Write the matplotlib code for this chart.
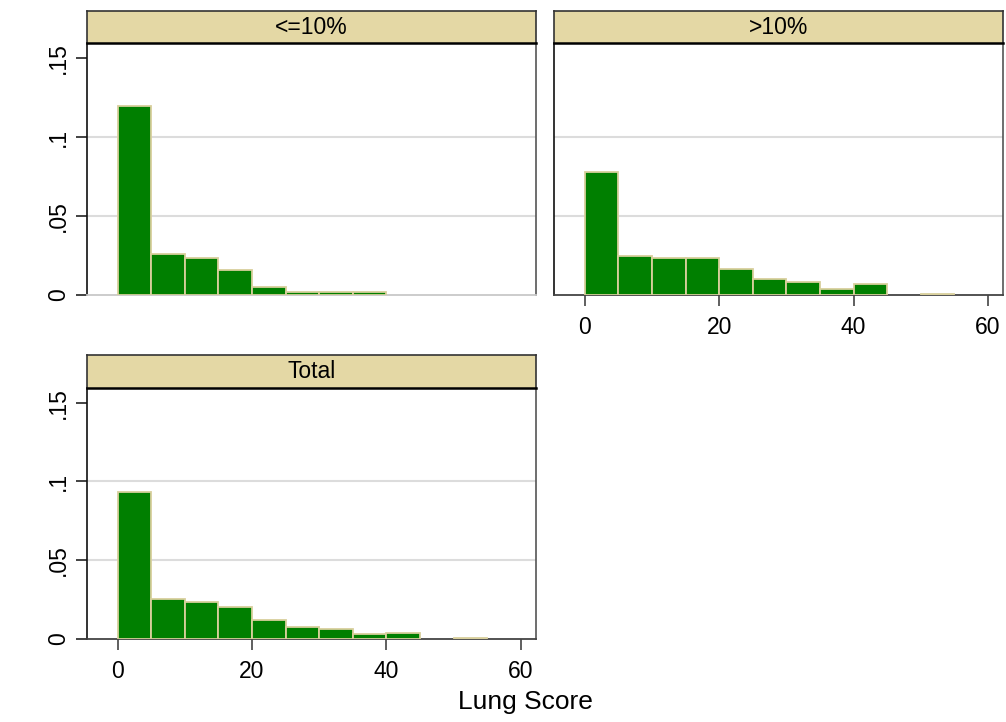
import matplotlib.pyplot as plt
import numpy as np

plt.rcParams['font.family'] = ['Liberation Sans', 'DejaVu Sans']

# histogram bins (width 5) and densities per group
bin_left = [0, 5, 10, 15, 20, 25, 30, 35, 40, 45, 50]
dens_low = [0.1195, 0.0259, 0.0236, 0.0156, 0.0053, 0.0017, 0.0017, 0.0017, 0, 0, 0]
dens_high = [0.0777, 0.0246, 0.0232, 0.0232, 0.0162, 0.0099, 0.0082, 0.0036, 0.0069, 0, 0.0006]
dens_total = [0.0930, 0.0252, 0.0237, 0.0205, 0.0121, 0.0074, 0.0061, 0.0032, 0.0040, 0, 0.0008]
titles = ["<=10%", ">10%", "Total"]
yticks = [0, 0.05, 0.1, 0.15]
yticklabels = ["0", ".05", ".1", ".15"]
xticks = [0, 20, 40, 60]

W, H = 1006, 722
fig = plt.figure(figsize=(W / 100, H / 100), dpi=100)

GREEN = "#007f00"
EDGE = "#d8cf9c"
STRIP = "#e4d8a5"


def px_axes(x0, y0, x1, y1):
    return fig.add_axes([x0 / W, 1 - y1 / H, (x1 - x0) / W, (y1 - y0) / H])


def panel(x0, x1, top, bottom, dens, title, show_x, show_y):
    ax = px_axes(x0, top, x1, bottom)
    for left, d in zip(bin_left, dens):
        if d > 0:
            ax.bar(left, d, width=5, align="edge", color=GREEN,
                   edgecolor=EDGE, linewidth=1.3, zorder=3)
    ax.set_xlim(-4.6, 62.2)
    ax.set_ylim(0, 0.1595)
    for g in [0.05, 0.1]:
        ax.axhline(g, color="#dcdcdc", linewidth=1.5, zorder=1)
    ax.spines["top"].set_visible(False)
    ax.spines["right"].set_color("#555555")
    ax.spines["right"].set_linewidth(1.2)
    ax.spines["left"].set_color("#111111")
    ax.spines["left"].set_linewidth(1.2)
    ax.spines["bottom"].set_linewidth(1.3)
    if show_x:
        ax.spines["bottom"].set_color("#444444")
        ax.set_xticks(xticks)
        ax.set_xticklabels([str(t) for t in xticks], fontsize=16.5)
        ax.tick_params(axis="x", length=8, width=1.2, color="#444444", pad=7)
    else:
        ax.spines["bottom"].set_color("#c8c8c8")
        ax.set_xticks([])
    if show_y:
        ax.set_yticks(yticks)
        ax.set_yticklabels(yticklabels, fontsize=16.5, rotation=90, va="center")
        ax.tick_params(axis="y", length=8, width=1.2, color="#222222", pad=4)
    else:
        ax.set_yticks([])

    # strip header above the panel
    hx = px_axes(x0, top - 32.5, x1, top)
    hx.set_facecolor(STRIP)
    hx.set_xticks([])
    hx.set_yticks([])
    for s in hx.spines.values():
        s.set_color("#333333")
        s.set_linewidth(1.2)
    hx.spines["bottom"].set_color("black")
    hx.spines["bottom"].set_linewidth(1.8)
    hx.text(0.5, 0.5, title, ha="center", va="center", fontsize=16.5,
            transform=hx.transAxes)
    return ax


panel(86.7, 535.7, 43.3, 295, dens_low, titles[0], False, True)
panel(554, 1002.7, 43.3, 295, dens_high, titles[1], True, False)
panel(86.7, 535.7, 387.7, 639, dens_total, titles[2], True, True)

fig.text(525 / W, 1 - 702 / H, "Lung Score", ha="center", va="center", fontsize=19)

fig.savefig("out.png", dpi=100)
